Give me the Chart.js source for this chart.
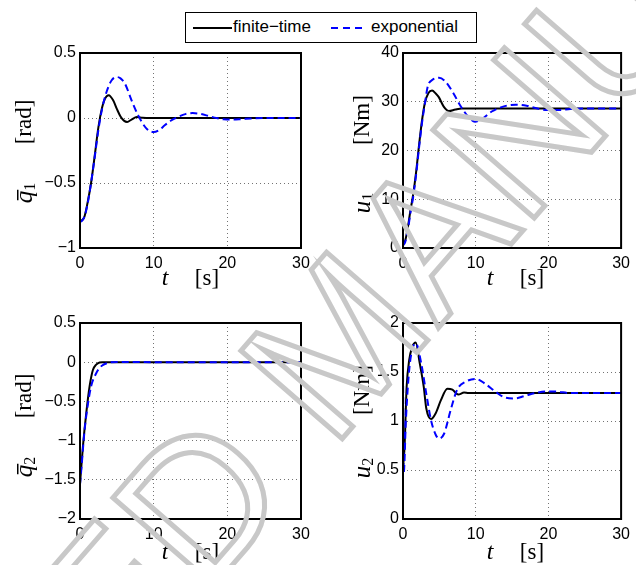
<!DOCTYPE html>
<html>
<head>
<meta charset="utf-8">
<script src="https://cdn.jsdelivr.net/npm/chart.js@4.4.1/dist/chart.umd.min.js"></script>
<style>
body{margin:0;background:#fff;width:636px;height:565px;overflow:hidden;position:relative}
canvas{position:absolute}
#legend{position:absolute;left:185px;top:12px;width:290px;height:29px;border:1px solid #000;background:#fff;
font:17px "Liberation Sans",Arial,sans-serif;z-index:2}
#legend span{position:absolute;top:4px}
#legend svg{position:absolute;top:0}
#wm{pointer-events:none;z-index:3}
</style>
</head>
<body>

<div id="legend">
<svg width="290" height="29"><line x1="7" y1="15" x2="46" y2="15" stroke="#000" stroke-width="2"/>
<line x1="145" y1="15" x2="177" y2="15" stroke="#0000ff" stroke-width="2" stroke-dasharray="7,5"/></svg>
<span style="left:47px">finite−time</span>
<span style="left:185px">exponential</span>
</div>

<canvas id="c1" width="318" height="300" style="left:0;top:0"></canvas>
<canvas id="c2" width="318" height="300" style="left:318px;top:0"></canvas>
<canvas id="c3" width="318" height="265" style="left:0;top:300px"></canvas>
<canvas id="c4" width="318" height="265" style="left:318px;top:300px"></canvas>
<canvas id="wm" width="636" height="565" style="left:0;top:0"></canvas>

<script>
// time axis ticks
const tTicks = [0, 10, 20, 30];

// q1 bar  [rad]
const q1FinT = [0, 0.3, 0.6, 1.0, 1.5, 2.0, 2.5, 3.0, 3.4, 3.9, 4.5, 5.0, 5.5, 6.0, 6.4, 7.0, 7.7, 8.5, 9.5, 30];
const q1FinY = [-0.79, -0.785, -0.76, -0.66, -0.5, -0.29, -0.07, 0.08, 0.15, 0.175, 0.136, 0.07, 0.012, -0.022, -0.03, -0.012, 0.007, 0.002, 0, 0];
const q1ExpT = [0, 0.3, 0.6, 1.0, 1.5, 2.0, 2.5, 3.0, 3.6, 4.3, 5.0, 5.5, 6.1, 7.0, 7.9, 9.0, 10.0, 10.8, 11.5, 12.5, 13.3, 14.3, 15.3, 16.3, 17.5, 18.5, 19.5, 20.8, 22, 23.5, 25, 30];
const q1ExpY = [-0.8, -0.79, -0.76, -0.67, -0.5, -0.3, -0.09, 0.07, 0.2, 0.29, 0.315, 0.305, 0.265, 0.136, 0.02, -0.08, -0.108, -0.09, -0.056, -0.015, 0.008, 0.03, 0.038, 0.032, 0.015, 0, -0.01, -0.012, -0.008, -0.003, 0, 0];

// u1  [Nm]
const u1FinT = [0, 0.3, 0.7, 1.0, 1.4, 1.8, 2.2, 2.6, 3.0, 3.5, 4.0, 4.5, 4.9, 5.6, 6.3, 7.2, 8.1, 30];
const u1FinY = [0.8, 1.5, 4.5, 7.5, 11, 15.5, 21, 26, 29.7, 31.8, 32.3, 31.7, 31.0, 29.0, 28.1, 28.4, 28.6, 28.6];
const u1ExpT = [0, 0.3, 0.7, 1.0, 1.4, 1.8, 2.2, 2.6, 3.0, 3.4, 4.05, 4.95, 5.85, 6.95, 7.85, 9.0, 9.9, 11.0, 12.2, 14.0, 15.5, 17.0, 18.5, 19.8, 21.5, 23, 25, 30];
const u1ExpY = [0.5, 1.2, 4, 7, 10.5, 15, 20.5, 25.5, 29.5, 33.1, 34.5, 34.9, 34.1, 31.7, 29.3, 26.9, 25.9, 26.6, 28.0, 29.1, 29.4, 29.2, 28.6, 28.3, 28.3, 28.5, 28.6, 28.6];

// q2 bar  [rad]
const q2FinT = [0, 0.4, 0.85, 1.3, 1.75, 2.2, 2.65, 3.0, 30];
const q2FinY = [-1.55, -1.07, -0.65, -0.31, -0.1, -0.03, -0.003, 0, 0];
const q2ExpT = [0, 0.15, 0.63, 1.1, 1.5, 2.2, 2.9, 3.8, 5, 7, 10, 30];
const q2ExpY = [-1.56, -1.4, -0.86, -0.52, -0.31, -0.14, -0.05, -0.01, 0.004, 0.003, 0, 0];

// u2  [Nm]
const u2FinT = [0, 0.08, 0.5, 0.85, 1.3, 1.75, 2.3, 2.85, 3.2, 3.85, 4.5, 5.2, 6.1, 6.8, 7.6, 8.4, 9, 30];
const u2FinY = [0.75, 0.55, 1.35, 1.62, 1.76, 1.8, 1.59, 1.35, 1.13, 1.02, 1.08, 1.21, 1.33, 1.32, 1.27, 1.29, 1.285, 1.285];
const u2ExpT = [0, 0.1, 0.4, 0.85, 1.4, 1.8, 2.5, 3.2, 3.85, 4.5, 4.95, 5.65, 6.55, 7.45, 8.6, 10.0, 11.3, 12.7, 14.0, 15.4, 16.7, 18.5, 19.6, 21, 23, 30];
const u2ExpY = [1.58, 0.47, 1.01, 1.52, 1.76, 1.79, 1.59, 1.28, 1.01, 0.86, 0.82, 0.87, 1.11, 1.32, 1.40, 1.43, 1.38, 1.30, 1.24, 1.23, 1.255, 1.29, 1.30, 1.30, 1.285, 1.285];

function pts(t, y){
  return t.map((v, i) => ({x: v, y: y[i]}));
}

function fmt(v){
  return v < 0 ? '\u2212' + Math.abs(v) : String(v);
}

const SERIF = '"Liberation Serif","DejaVu Serif",serif';
const SANS = '"Liberation Sans",Arial,sans-serif';

// frame around the plot area
const boxPlugin = {
  id: 'box',
  afterDatasetsDraw(chart){
    const a = chart.chartArea, ctx = chart.ctx;
    ctx.save();
    ctx.strokeStyle = '#000';
    ctx.lineWidth = 2;
    ctx.strokeRect(a.left, a.top, a.right - a.left, a.bottom - a.top);
    ctx.restore();
  }
};

// axis titles: t [s] and symbol + unit
const axisText = {
  id: 'axisText',
  afterDraw(chart, args, o){
    const ctx = chart.ctx;
    ctx.save();
    ctx.fillStyle = '#000';
    ctx.textBaseline = 'middle';
    ctx.textAlign = 'center';
    ctx.font = 'italic 24px ' + SERIF;
    ctx.fillText('t', o.tX, o.xY);
    ctx.font = '23px ' + SERIF;
    ctx.fillText('[s]', o.sX, o.xY);

    ctx.translate(o.yX, 0);
    ctx.rotate(-Math.PI / 2);
    ctx.font = '23px ' + SERIF;
    ctx.fillText(o.unit, -o.unitY, 0);

    ctx.textAlign = 'left';
    ctx.font = 'italic 25px ' + SERIF;
    const w1 = ctx.measureText(o.sym).width;
    ctx.font = '16px ' + SERIF;
    const w2 = ctx.measureText(o.sub).width;
    const x0 = -o.symY - (w1 + w2) / 2;
    ctx.font = 'italic 25px ' + SERIF;
    ctx.fillText(o.sym, x0, 0);
    ctx.font = '16px ' + SERIF;
    ctx.fillText(o.sub, x0 + w1, 6);
    if (o.bar){
      ctx.fillRect(x0 + 3, -8, w1 - 2, 1.5);
    }
    ctx.restore();
  }
};

function makeChart(id, finT, finY, expT, expY, yMin, yMax, yStep, lay, txt){
  return new Chart(document.getElementById(id), {
    type: 'line',
    data: {
      datasets: [
        {label: 'exponential', data: pts(expT, expY), borderColor: '#0000ff', borderWidth: 2,
         borderDash: [7, 4], pointRadius: 0, cubicInterpolationMode: 'monotone', order: 0},
        {label: 'finite-time', data: pts(finT, finY), borderColor: '#000', borderWidth: 2,
         pointRadius: 0, cubicInterpolationMode: 'monotone', order: 1}
      ]
    },
    options: {
      responsive: false,
      animation: false,
      devicePixelRatio: 1,
      layout: {autoPadding: false, padding: {left: 0, right: lay.padR, top: lay.padT, bottom: 0}},
      plugins: {legend: {display: false}, tooltip: {enabled: false}, axisText: txt},
      scales: {
        x: {
          type: 'linear', min: tTicks[0], max: tTicks[tTicks.length - 1],
          afterBuildTicks: s => { s.ticks = tTicks.map(v => ({value: v})); },
          afterFit: s => { s.height = lay.xH; },
          ticks: {autoSkip: false, maxRotation: 0, minRotation: 0, padding: 6, color: '#000',
                  font: {family: SANS, size: 16}, callback: fmt},
          grid: {color: 'rgba(0,0,0,0.55)', lineWidth: 1, drawTicks: false},
          border: {display: false, dash: [1, 3]}
        },
        y: {
          type: 'linear', min: yMin, max: yMax,
          afterFit: s => { s.width = lay.yW; },
          ticks: {stepSize: yStep, autoSkip: false, padding: 4, color: '#000',
                  font: {family: SANS, size: 16}, callback: fmt},
          grid: {color: 'rgba(0,0,0,0.55)', lineWidth: 1, drawTicks: false},
          border: {display: false, dash: [1, 3]}
        }
      }
    },
    plugins: [boxPlugin, axisText]
  });
}

makeChart('c1', q1FinT, q1FinY, q1ExpT, q1ExpY, -1, 0.5, 0.5,
  {padT: 53, padR: 17, yW: 80, xH: 52},
  {tX: 165, sX: 207, xY: 279, yX: 25, unit: '[rad]', unitY: 122, sym: 'q', sub: '1', symY: 193, bar: true});
makeChart('c2', u1FinT, u1FinY, u1ExpT, u1ExpY, 0, 40, 10,
  {padT: 53, padR: 11, yW: 85, xH: 52},
  {tX: 172, sX: 214, xY: 279, yX: 45, unit: '[Nm]', unitY: 120, sym: 'u', sub: '1', symY: 203, bar: false});
makeChart('c3', q2FinT, q2FinY, q2ExpT, q2ExpY, -2, 0.5, 0.5,
  {padT: 23, padR: 17, yW: 80, xH: 46},
  {tX: 165, sX: 207, xY: 253, yX: 25, unit: '[rad]', unitY: 96, sym: 'q', sub: '2', symY: 167, bar: true});
makeChart('c4', u2FinT, u2FinY, u2ExpT, u2ExpY, 0, 2, 0.5,
  {padT: 23, padR: 11, yW: 85, xH: 46},
  {tX: 172, sX: 214, xY: 253, yX: 45, unit: '[Nm]', unitY: 90, sym: 'u', sub: '2', symY: 168, bar: false});

// watermark
const wm = document.getElementById('wm').getContext('2d');
wm.translate(348, 350);
wm.rotate(-49 * Math.PI / 180);
wm.font = '195px ' + SANS;
wm.textAlign = 'center';
wm.textBaseline = 'middle';
wm.strokeStyle = '#c8c8c8';
wm.lineWidth = 5;
wm.strokeText('ACCEPTED MANUSCRIPT', 0, 0);
</script>
</body>
</html>
